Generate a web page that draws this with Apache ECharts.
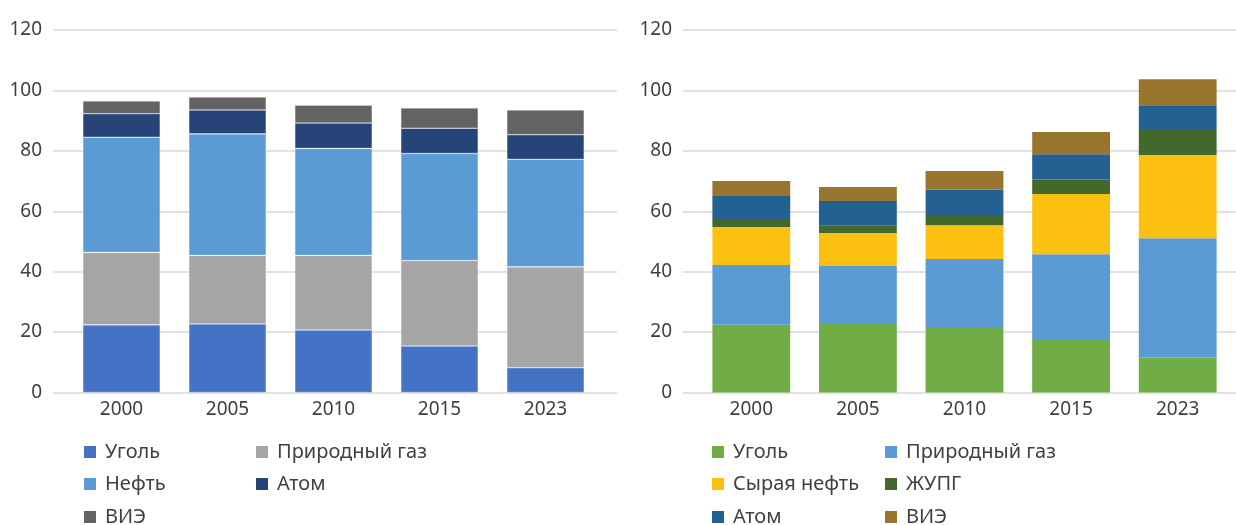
<!DOCTYPE html>
<html>
<head>
<meta charset="utf-8">
<script src="https://cdn.jsdelivr.net/npm/echarts@6/dist/echarts.min.js"></script>
<style>
html,body{margin:0;padding:0;background:#fff;}
#c{width:1236px;height:525px;}
</style>
</head>
<body>
<div id="c"></div>
<script>
// ---- data ----
const years = ['2000', '2005', '2010', '2015', '2023'];
const yTicks = [0, 20, 40, 60, 80, 100, 120];

// left chart
const coalL = [22.4, 22.7, 20.7, 15.4, 8.2];
const gasL  = [24.0, 22.7, 24.7, 28.3, 33.4];
const oilL  = [38.1, 40.2, 35.4, 35.4, 35.6];
const atomL = [7.8, 7.9, 8.4, 8.4, 8.1];
const renL  = [4.2, 4.3, 5.9, 6.7, 8.2];

// right chart
const coalR  = [22.4, 23.0, 21.7, 17.7, 11.6];
const gasR   = [19.8, 18.9, 22.5, 28.1, 39.5];
const crudeR = [12.6, 10.9, 11.2, 19.9, 27.5];
const lpgR   = [2.6, 2.4, 3.0, 4.8, 8.3];
const atomR  = [7.9, 8.2, 8.7, 8.4, 8.2];
const renR   = [4.7, 4.6, 6.2, 7.3, 8.6];

const namesL = ['Уголь', 'Природный газ', 'Нефть', 'Атом', 'ВИЭ'];
const namesR = ['Уголь', 'Природный газ', 'Сырая нефть', 'ЖУПГ', 'Атом', 'ВИЭ'];

// ---- styling ----
const FONT = 'Noto Sans';
const TXT = '#404040';
const GRIDC = '#D9D9D9';
const colorsL = ['#4472C4', '#A5A5A5', '#5B9BD5', '#264478', '#636363'];
const colorsR = ['#70AD47', '#5B9BD5', '#FCC010', '#43682B', '#236192', '#98752E'];

const TOP = 30, H = 362.5;
const yMin = yTicks[0], yMax = yTicks[yTicks.length - 1], yStep = yTicks[1] - yTicks[0];

const grids = [
  {left: 53, width: 564, top: TOP, height: H},   // left gridlines
  {left: 68.5, width: 530, top: TOP, height: H}, // left bars
  {left: 683, width: 553, top: TOP, height: H},  // right gridlines
  {left: 698, width: 533, top: TOP, height: H}   // right bars
];

function gridY(i) {
  return {
    gridIndex: i, type: 'value', min: yMin, max: yMax, interval: yStep,
    axisLine: {show: false}, axisTick: {show: false},
    axisLabel: {fontFamily: FONT, fontSize: 19, color: TXT, margin: 11},
    splitLine: {lineStyle: {color: GRIDC, width: 1.5}}
  };
}
function barY(i) {
  return {gridIndex: i, type: 'value', min: yMin, max: yMax, interval: yStep, show: false};
}
function barX(i) {
  return {
    gridIndex: i, type: 'category', data: years,
    axisLine: {show: false}, axisTick: {show: false},
    axisLabel: {fontFamily: FONT, fontSize: 19, color: TXT, margin: 8}
  };
}

const seriesL = [coalL, gasL, oilL, atomL, renL].map((d, k) => ({
  type: 'bar', name: namesL[k], stack: 'L', xAxisIndex: 1, yAxisIndex: 1,
  data: d, barCategoryGap: '27%',
  itemStyle: {color: colorsL[k], borderColor: 'rgba(255,255,255,0.5)', borderWidth: 0.6},
  emphasis: {disabled: true}
}));
const seriesR = [coalR, gasR, crudeR, lpgR, atomR, renR].map((d, k) => ({
  type: 'bar', name: namesR[k], stack: 'R', xAxisIndex: 3, yAxisIndex: 3,
  data: d, barCategoryGap: '27%',
  itemStyle: {color: colorsR[k]},
  emphasis: {disabled: true}
}));

// legend layout: [name, color, left, top]
const rowTops = [442, 474, 507];
const legendItems = [
  [namesL[0], colorsL[0], 84, rowTops[0]],
  [namesL[1], colorsL[1], 256, rowTops[0]],
  [namesL[2], colorsL[2], 84, rowTops[1]],
  [namesL[3], colorsL[3], 256, rowTops[1]],
  [namesL[4], colorsL[4], 84, rowTops[2]],
  [namesR[0], colorsR[0], 712, rowTops[0]],
  [namesR[1], colorsR[1], 885, rowTops[0]],
  [namesR[2], colorsR[2], 712, rowTops[1]],
  [namesR[3], colorsR[3], 885, rowTops[1]],
  [namesR[4], colorsR[4], 712, rowTops[2]],
  [namesR[5], colorsR[5], 885, rowTops[2]]
];
const legends = legendItems.map(([n, c, l, t]) => ({
  data: [{name: n, itemStyle: {color: c, borderWidth: 0}}],
  left: l, top: t, padding: 0, selectedMode: false,
  icon: 'rect', itemWidth: 12, itemHeight: 12,
  textStyle: {fontFamily: FONT, fontSize: 20, color: TXT, padding: [0, 0, 0, 4]}
}));

const option = {
  animation: false,
  backgroundColor: '#fff',
  grid: grids,
  xAxis: [
    {gridIndex: 0, type: 'value', show: false},
    barX(1),
    {gridIndex: 2, type: 'value', show: false},
    barX(3)
  ],
  yAxis: [gridY(0), barY(1), gridY(2), barY(3)],
  legend: legends,
  series: seriesL.concat(seriesR)
};

const chart = echarts.init(document.getElementById('c'), null, {renderer: 'canvas'});
chart.setOption(option);
</script>
</body>
</html>
